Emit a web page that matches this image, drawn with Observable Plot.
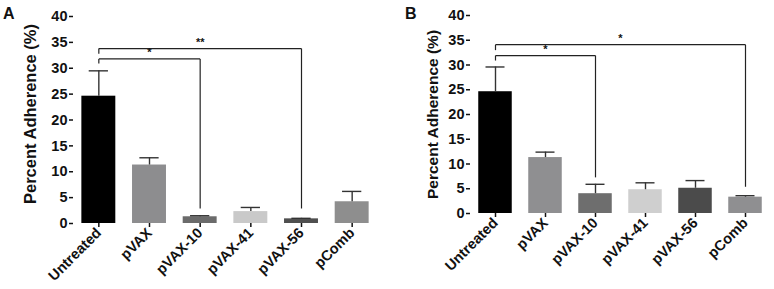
<!DOCTYPE html>
<html>
<head>
<meta charset="utf-8">
<script src="https://cdn.jsdelivr.net/npm/d3@7"></script>
<script src="https://cdn.jsdelivr.net/npm/@observablehq/plot@0.6"></script>
<style>
  html, body { margin: 0; padding: 0; background: #fff; }
  #wrap { display: flex; width: 774px; height: 289px; }
  .panel { position: relative; width: 387px; height: 289px; }
  .letter { position: absolute; font: bold 16px "Liberation Sans", Arial, sans-serif; color: #111; }
</style>
</head>
<body>
<div id="wrap">
  <div class="panel" id="pa"><div class="letter" style="left:3px;top:5px">A</div></div>
  <div class="panel" id="pb"><div class="letter" style="left:18px;top:5px">B</div></div>
</div>
<script>
const categories = ["Untreated", "pVAX", "pVAX-10", "pVAX-41", "pVAX-56", "pComb"];
const yTicks = [0, 5, 10, 15, 20, 25, 30, 35, 40];

const meanA = [24.6, 11.3, 1.3, 2.3, 0.9, 4.2];
const errA  = [29.5, 12.7, 1.5, 3.1, 1.0, 6.2];
const colorsA = ["#000000", "#8d8d8f", "#6b6b6b", "#c9c9c9", "#4f4f4f", "#8e8e8e"];

const meanB = [24.6, 11.3, 4.0, 4.8, 5.1, 3.3];
const errB  = [29.6, 12.4, 5.9, 6.2, 6.65, 3.6];
const colorsB = ["#000000", "#8f8f91", "#6e6e6e", "#cfcfcf", "#4b4b4b", "#8f8f91"];

// significance brackets: from/to category, bar height, left stub end, right leg end, label
const compA = [
  {from: "Untreated", to: "pVAX-56", y: 33.8, yl: 32.8, yr: 2.9, label: "**"},
  {from: "Untreated", to: "pVAX-10", y: 31.8, yl: 30.9, yr: 2.9, label: "*"}
];
const compB = [
  {from: "Untreated", to: "pComb", y: 34.1, yl: 33.0, yr: 5.4, label: "*"},
  {from: "Untreated", to: "pVAX-10", y: 31.9, yl: 30.9, yr: 7.3, label: "*"}
];

const FONT = '"Liberation Sans", Arial, Helvetica, sans-serif';
const BAR_HALF = 0.335, CAP_HALF = 0.19;

function panel(mean, err, colors, comps, opts) {
  const table = categories.map((c, i) => ({i, c, value: mean[i], err: err[i], color: colors[i]}));
  const idx = c => categories.indexOf(c);
  const segs = comps.flatMap(d => [
    {x1: idx(d.from), y1: d.yl, x2: idx(d.from), y2: d.y},
    {x1: idx(d.from), y1: d.y, x2: idx(d.to), y2: d.y},
    {x1: idx(d.to), y1: d.y, x2: idx(d.to), y2: d.yr}
  ]);
  return Plot.plot({
    width: 387, height: 289,
    marginLeft: opts.ml, marginRight: opts.mr, marginTop: opts.mt, marginBottom: opts.mb,
    x: {type: "linear", domain: [-0.5, 5.5], axis: null},
    y: {domain: [0, 40], axis: null},
    style: {fontFamily: FONT, fontWeight: "bold", color: "#111", background: "#fff"},
    marks: [
      Plot.rectY(table, {x1: d => d.i - BAR_HALF, x2: d => d.i + BAR_HALF, y1: 0, y2: "value", fill: "color"}),
      Plot.ruleX(table, {x: "i", y1: "value", y2: "err", stroke: "#333", strokeWidth: 1.4}),
      Plot.ruleY(table, {y: "err", x1: d => d.i - CAP_HALF, x2: d => d.i + CAP_HALF, stroke: "#333", strokeWidth: 1.4}),
      Plot.link(segs, {x1: "x1", y1: "y1", x2: "x2", y2: "y2", stroke: "#222", strokeWidth: 1.2}),
      Plot.text(comps, {x: d => (idx(d.from) + idx(d.to)) / 2, y: "y", text: "label", dy: -6, fontSize: 11, fill: "#111"}),
      Plot.axisY({ticks: yTicks, tickSize: 4, tickPadding: 2, fontSize: 14.5, label: null, line: true, strokeWidth: 1.5}),
      Plot.axisX({ticks: d3.range(categories.length), tickFormat: i => categories[i], tickRotate: -45,
                  tickSize: 4, tickPadding: 3, fontSize: 14.5, label: null, line: true, strokeWidth: 1.5}),
      Plot.text(["Percent Adherence (%)"], {frameAnchor: "left", textAnchor: "middle", rotate: -90, dx: opts.ldx, dy: opts.ldy, fontSize: opts.lfs, fontWeight: "bold", fill: "#111"})
    ]
  });
}

document.getElementById("pa").appendChild(panel(meanA, errA, colorsA, compA, {ml: 73, mr: 10, mt: 16, mb: 66, ldx: -43, ldy: -6, lfs: 16.5}));
document.getElementById("pb").appendChild(panel(meanB, errB, colorsB, compB, {ml: 83, mr: 4, mt: 15, mb: 76, ldx: -37, ldy: 0, lfs: 15.5}));
</script>
</body>
</html>
